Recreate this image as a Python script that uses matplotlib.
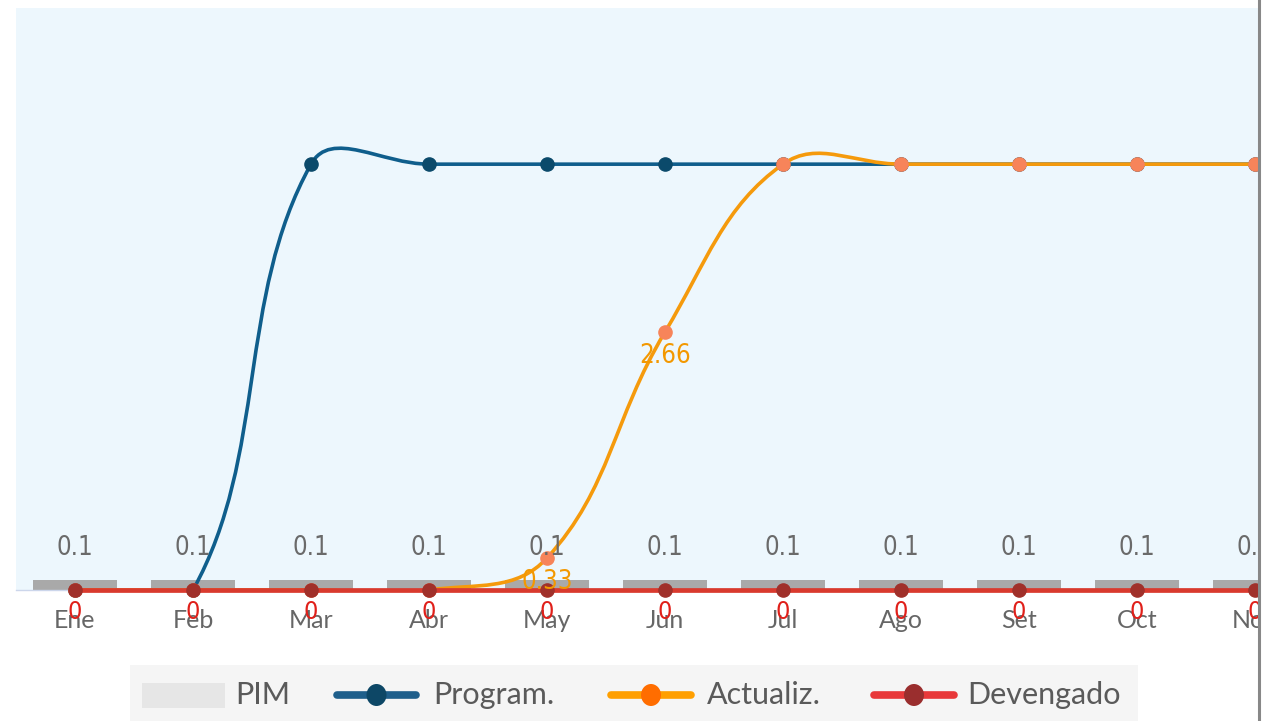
import numpy as np
import matplotlib
matplotlib.use("Agg")
import matplotlib.pyplot as plt
from matplotlib.path import Path
from matplotlib.patches import PathPatch, Rectangle, Ellipse
from matplotlib.lines import Line2D

# ---------------- data ----------------
months = ["Ene", "Feb", "Mar", "Abr", "May", "Jun", "Jul", "Ago", "Set", "Oct", "Nov", "Dic"]
pim = [0.1, 0.1, 0.1, 0.1, 0.1, 0.1, 0.1, 0.1, 0.1, 0.1, 0.1, 0.1]
program = [0, 0, 4.39, 4.39, 4.39, 4.39, 4.39, 4.39, 4.39, 4.39, 4.39, 4.39]
actualiz = [0, 0, 0, 0, 0.33, 2.66, 4.39, 4.39, 4.39, 4.39, 4.39, 4.39]
devengado = [0, 0, 0, 0, 0, 0, 0, 0, 0, 0, 0, 0]
actualiz_labels = {4: "0.33", 5: "2.66"}

W, H = 1275, 721
fig = plt.figure(figsize=(W / 100, H / 100), dpi=100)
fig.patch.set_facecolor("white")

def fx(x):
    return x / W

def fy(y):
    return 1 - y / H

# axes extends past the right edge (chart is cropped)
ax = fig.add_axes([fx(16), fy(590), 1416 / W, 582 / H])
ax.set_facecolor("#edf7fd")
ax.set_xlim(-0.5, 11.5)
ax.set_ylim(0, 6)
for s in ["top", "right", "left"]:
    ax.spines[s].set_visible(False)
ax.spines["bottom"].set_color("#ccd6eb")
ax.spines["bottom"].set_linewidth(1)
ax.set_yticks([])
x = np.arange(len(months))
ax.set_xticks(x)
ax.set_xticklabels(months, fontfamily="Lato", fontsize=18, color="#666666")
ax.tick_params(axis="x", length=0, pad=14)

LBL = dict(family="DejaVu Sans", fontstretch="condensed")

# PIM bars
ax.bar(x, pim, width=0.71, color="#a9a9a9", zorder=2)
for xi, v in zip(x, pim):
    ax.annotate(f"{v:g}", (xi, v), xytext=(0, 32), textcoords="offset pixels",
                ha="center", va="center", fontsize=18.5, color="#6a6a6a", zorder=6,
                annotation_clip=False, **LBL)


def smooth_path(xs, ys, smooth=0.4):
    pts = ax.transData.transform(np.column_stack([xs, ys]))
    n = len(pts)
    cin = [pts[i].copy() for i in range(n)]
    cout = [pts[i].copy() for i in range(n)]
    for i in range(1, n - 1):
        p, prev, nxt = pts[i], pts[i - 1], pts[i + 1]
        v = nxt - prev
        d0 = np.hypot(*(p - prev))
        d1 = np.hypot(*(nxt - p))
        r = d1 / (d0 + d1) if d0 + d1 > 0 else 0.5
        cin[i] = p - v * smooth * (1 - r)
        cout[i] = p + v * smooth * r
    verts = [pts[0]]
    codes = [Path.MOVETO]
    for i in range(1, n):
        verts += [cout[i - 1], cin[i], pts[i]]
        codes += [Path.CURVE4] * 3
    verts = ax.transData.inverted().transform(np.array(verts))
    return Path(verts, codes)


# Program
ax.add_patch(PathPatch(smooth_path(x, program), fill=False, edgecolor="#0f5e8c",
                       lw=2.6, zorder=3, capstyle="round", joinstyle="round"))
ax.plot(x, program, "o", ms=9.5, color="#0b4a6b", zorder=3.5, clip_on=False)

# Actualiz
ax.add_patch(PathPatch(smooth_path(x, actualiz), fill=False, edgecolor="#f59a0c",
                       lw=2.6, zorder=4, capstyle="round", joinstyle="round"))
ax.plot(x, actualiz, "o", ms=9.5, color="#f7845a", zorder=4.5, clip_on=False)
for i, t in actualiz_labels.items():
    ax.annotate(t, (x[i], actualiz[i]), xytext=(0, -24), textcoords="offset pixels",
                ha="center", va="center", fontsize=18.5, color="#f39800", zorder=6,
                annotation_clip=False, **LBL)

# Devengado
ax.plot(x, devengado, "-", lw=3.4, color="#d93a2e", zorder=5, clip_on=False,
        solid_capstyle="butt")
ax.plot(x, devengado, "o", ms=9.5, color="#a0302a", zorder=5.5, clip_on=False)
for xi, v in zip(x, devengado):
    ax.annotate(f"{v:g}", (xi, v), xytext=(0, -22), textcoords="offset pixels",
                ha="center", va="center", fontsize=18, color="#e0201a", zorder=7,
                annotation_clip=False, **LBL)

# right cropping border
fig.patches.append(Rectangle((fx(1260), 0), 1 - fx(1260), 1, transform=fig.transFigure,
                             facecolor="white", edgecolor="none", zorder=20))
fig.lines.append(Line2D([fx(1258.5), fx(1258.5)], [0, 1], transform=fig.transFigure,
                        color="#888888", lw=2.2, zorder=21))

# legend (manual)
fig.patches.append(Rectangle((fx(130), fy(721)), fx(1138) - fx(130), fy(665) - fy(721),
                             transform=fig.transFigure, facecolor="#f5f5f5",
                             edgecolor="none", zorder=10))
fig.patches.append(Rectangle((fx(142), fy(708)), fx(225) - fx(142), fy(683) - fy(708),
                             transform=fig.transFigure, facecolor="#e6e6e6",
                             edgecolor="none", zorder=11))
leg_y = 695
fig.text(fx(235), fy(leg_y), "PIM", fontfamily="Lato", fontsize=22, color="#5a5a5a",
         ha="left", va="center", zorder=12)
items = [("Program.", 333, 420, "#1f5f8b", "#0d4766", 433),
         ("Actualiz.", 607, 695, "#ff9f00", "#ff6d00", 707),
         ("Devengado", 870, 958, "#e8383a", "#9a2e2e", 967)]
for lab, x0, x1, lc, mc, tx in items:
    fig.lines.append(Line2D([fx(x0 + 4), fx(x1 - 4)], [fy(leg_y), fy(leg_y)],
                            transform=fig.transFigure, color=lc, lw=5.5,
                            solid_capstyle="round", zorder=11))
    fig.patches.append(Ellipse((fx((x0 + x1) / 2), fy(leg_y)), 20 / W, 22 / H,
                               transform=fig.transFigure, facecolor=mc,
                               edgecolor="none", zorder=12))
    fig.text(fx(tx), fy(leg_y), lab, fontfamily="Lato", fontsize=22, color="#5a5a5a",
             ha="left", va="center", zorder=12)

fig.savefig("out.png", dpi=100)
